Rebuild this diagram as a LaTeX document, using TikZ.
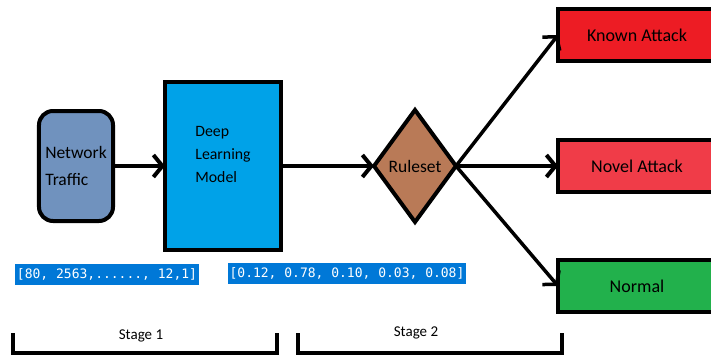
\documentclass[tikz,border=0pt]{standalone}
\usepackage{fontspec}
\setmainfont{Carlito}
\newfontfamily\vecfont{DejaVu Sans Mono}
\usepackage{tikz}
\usetikzlibrary{
  arrows.meta,
  shapes.geometric,
  chains,
  matrix,
  positioning,
  scopes
}
\definecolor{trafficblue}{HTML}{7092BE}
\definecolor{modelblue}{HTML}{00A2E8}
\definecolor{rulebrown}{HTML}{B97A57}
\definecolor{knownred}{HTML}{ED1C24}
\definecolor{novelred}{HTML}{F03C48}
\definecolor{normalgreen}{HTML}{22B14C}
\definecolor{selblue}{HTML}{0078D7}

\begin{document}
\begin{tikzpicture}[
      x=1pt,y=-1pt,
      source/.style={
         rectangle,
         rounded corners=14pt,
         anchor=center,
         minimum width=74pt,
         minimum height=110pt,
         inner sep=0pt,
         line width=4pt,
         draw=black,
         fill=trafficblue,
         align=left,
         font=\fontsize{17.5}{27}\selectfont
      },
      model/.style={
         rectangle,
         anchor=center,
         minimum width=116pt,
         minimum height=168pt,
         inner sep=0pt,
         line width=4pt,
         draw=black,
         fill=modelblue,
         align=left,
         text depth=24pt,
         font=\fontsize{15.8}{23}\selectfont
      },
      rules/.style={
         diamond,
         aspect=0.72,
         anchor=center,
         minimum width=82pt,
         minimum height=112pt,
         inner sep=0pt,
         line width=4pt,
         draw=black,
         fill=rulebrown,
         font=\fontsize{17.5}{21}\selectfont
      },
      outcome/.style={
         rectangle,
         anchor=center,
         minimum width=158pt,
         minimum height=52pt,
         inner sep=0pt,
         line width=4pt,
         draw=black,
         font=\fontsize{18}{22}\selectfont
      },
      vector/.style={
         fill=selblue,
         text=white,
         inner xsep=2pt,
         inner ysep=0pt,
         minimum height=21pt,
         font=\vecfont\fontsize{13}{15}\selectfont
      },
      stage/.style={font=\fontsize{15}{18}\selectfont},
      bracket/.style={line width=4pt},
      >={Straight Barb[length=9pt,width=22pt]},
      tip/.style={->,line width=4pt,shorten >=0.007pt},
      fan/.style={->,line width=3.5pt},
      every join/.style={rounded corners}
    ]
    \useasboundingbox (0,0) rectangle (711,358);
    \matrix (net) [column sep=48pt, row sep=6pt, inner sep=0pt, outer sep=0pt, anchor=north west] at (37,7) {
 &  &[41pt]  &[50pt] \node (known) [outcome, fill=knownred] {Known Attack}; \\[11pt]
\node (traffic) [source] {Network\\Traffic}; & \node (model) [model] {Deep\\Learning\\Model}; & \node (rules) [rules] {Ruleset}; & \node (novel) [outcome, fill=novelred] {Novel Attack}; \\
 &  &  & \node (normal) [outcome, fill=normalgreen] {Normal}; \\
    };
  { [start chain]
       \chainin (traffic);
       \chainin (model)    [join=by tip];
  }
  { [start chain]
       \chainin (model);
       \chainin (rules)    [join=by tip];
  }
  { [start chain]
       \chainin (rules);
       \chainin (novel)    [join=by tip];
  }
    \draw[fan] (rules.east) -- (known.west);
    \draw[fan] (rules.east) -- (normal.west);
    % feature vector and class scores
    \node (features) [vector] at (107,274) {[80, 2563,......, 12,1]};
    \node (scores) [vector] at (347,273) {[0.12, 0.78, 0.10, 0.03, 0.08]};
    \node (stage1) [stage] at (141,336) {Stage 1};
    \node (stage2) [stage] at (416,333) {Stage 2};
    \draw[bracket] (13,333) |- (277,353) -- (277,333);
    \draw[bracket] (298,333) |- (562,353) -- (562,333);
\end{tikzpicture}
\end{document}
